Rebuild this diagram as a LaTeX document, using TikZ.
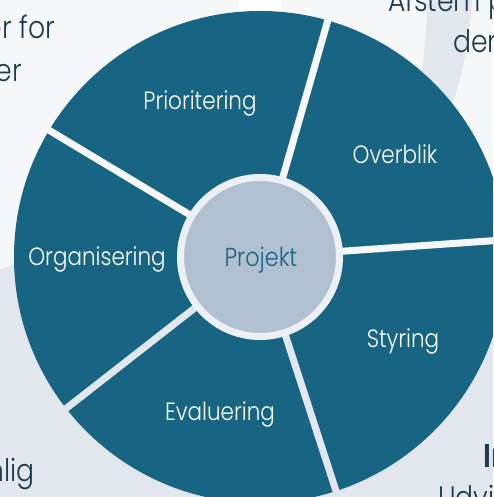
\documentclass[tikz,border=0pt]{standalone}
\usepackage{fontspec}
\setmainfont{Poppins}[FakeStretch=0.86, UprightFont=* Light, BoldFont=* SemiBold]
\definecolor{wheel}{RGB}{23,101,130}
\definecolor{hubfill}{RGB}{176,192,208}
\definecolor{ring}{RGB}{236,240,244}
\definecolor{hubtext}{RGB}{30,100,135}
\definecolor{paper}{RGB}{245,247,249}
\definecolor{greyzone}{RGB}{226,231,238}
\definecolor{ink}{RGB}{28,58,76}
\begin{document}
\begin{tikzpicture}[x=1pt, y=1pt,
	lbl/.style = {text=white, font=\fontsize{25}{29}\selectfont, anchor=base, inner sep=0pt},
	gap/.style = {line width=7pt},
	hub/.style = {circle, fill=hubfill, draw=ring, line width=7pt, minimum size=159pt, inner sep=0pt},
	back/.style = {text=ink, font=\fontsize{31}{36}\selectfont, inner sep=0pt}]
		\useasboundingbox (0,0) rectangle (493,497);
		\clip (0,0) rectangle (493,497);
		
		%Background
		\fill[paper] (0,0) rectangle (493,497);
		\fill[greyzone] (0,0) -- (0,227) -- (40,243) -- (493,262) -- (493,0) -- cycle;
		\fill[greyzone] (428,497) .. controls (426,460) and (423,430) .. (418,400) -- (400,360) -- (440,360) -- (452,392) .. controls (462,420) and (470,460) .. (472,497) -- cycle;
		\fill[white] (238,497) rectangle (282,460);
		
		%Text of the page behind the wheel
		\node[back, anchor=base east] (10) at (55,458) {er for};
		\node[back, anchor=base east] (11) at (22,415) {er};
		\node[back, anchor=base west] (12) at (388,485) {Afstem p};
		\node[back, anchor=base west] (13) at (453,444) {der};
		\node[back, anchor=base east] (14) at (35,15) {nlig};
		\node[back, anchor=base west, font=\fontsize{33}{36}\selectfont\bfseries] (15) at (483,29) {In};
		\node[back, anchor=base west] (16) at (438,-11) {Udvi};
		
		%Wheel with five segments
		\coordinate (c) at (260,240);
		\fill[wheel] (c) circle (246);
		\draw[gap, paper] (c) -- ++(74:247);
		\draw[gap, paper] (c) -- ++(149:247);
		\draw[gap, greyzone] (c) -- ++(218:247);
		\draw[gap, greyzone] (c) -- ++(288:247);
		\draw[gap, paper] (c) -- ++(4:247);
		\node[hub] (0) at (c) {};
		
		%Segment labels
		\node[lbl] (1) at (200,387) {Prioritering};
		\node[lbl] (2) at (395,333) {Overblik};
		\node[lbl] (3) at (403,149) {Styring};
		\node[lbl] (4) at (220,76) {Evaluering};
		\node[lbl] (5) at (97,231) {Organisering};
		\node[lbl, text=hubtext, font=\fontsize{26}{30}\selectfont] (6) at (261,230) {Projekt};
	\end{tikzpicture}
\end{document}
